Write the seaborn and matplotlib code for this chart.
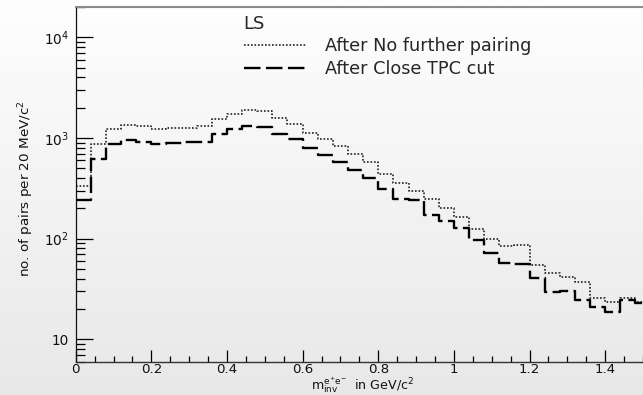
import numpy as np
import pandas as pd
import matplotlib
matplotlib.use("Agg")
import matplotlib.pyplot as plt
from matplotlib.colors import LinearSegmentedColormap
from matplotlib.ticker import FixedLocator, FixedFormatter, MultipleLocator, LogLocator, NullFormatter
import seaborn as sns

# ---- data ----
bin_edges = [round(0.04 * i, 2) for i in range(39)]
no_further = [331, 880, 1230, 1345, 1300, 1230, 1257, 1265, 1300, 1545,
              1748, 1887, 1842, 1580, 1390, 1131, 970, 833, 700, 577,
              435, 361, 297, 246, 203, 164, 124, 99, 84, 87,
              55, 46, 41.5, 37, 25.5, 23.5, 25.7, 23.5]
close_tpc = [240, 614, 870, 948, 913, 866, 892, 913, 913, 1088,
             1240, 1316, 1298, 1088, 970, 790, 670, 577, 485, 404,
             309, 246, 240, 171, 149, 127.5, 96, 72.5, 57.5, 56,
             40.6, 29.5, 30.3, 24.4, 21, 18.5, 24.4, 23]
series_labels = ["After No further pairing", "After Close TPC cut"]
legend_title = "LS"
x_ticks = [0, 0.2, 0.4, 0.6, 0.8, 1.0, 1.2, 1.4]
x_tick_labels = ["0", "0.2", "0.4", "0.6", "0.8", "1", "1.2", "1.4"]
y_ticks = [10, 100, 1000, 10000]
y_tick_labels = ["10", "$10^{2}$", "$10^{3}$", "$10^{4}$"]
x_label = "m$^{e^{+}e^{-}}_{inv}$  in GeV/c$^{2}$"
y_label = "no. of pairs per 20 MeV/c$^{2}$"

# ---- style ----
sns.set_style("ticks")
plt.rcParams['font.family'] = ['DejaVu Sans']
plt.rcParams['mathtext.fontset'] = 'custom'
plt.rcParams['mathtext.rm'] = 'DejaVu Sans'
plt.rcParams['mathtext.it'] = 'DejaVu Sans'
plt.rcParams['mathtext.bf'] = 'DejaVu Sans:bold'

fig = plt.figure(figsize=(6.43, 3.95), dpi=100)

# background gradient
bg = fig.add_axes([0, 0, 1, 1], zorder=-10)
grad = np.linspace(0, 1, 256)[:, None]
bg.imshow(grad, cmap=LinearSegmentedColormap.from_list('g', ['#fefefe', '#e8e8e8']),
          aspect='auto', extent=[0, 1, 0, 1], origin='upper')
bg.axis('off')

ax = fig.add_axes([0.1177, 0.0843, 0.8823, 0.8992])
ax.set_facecolor('none')

edges = np.array(bin_edges)
centers = (edges[:-1] + edges[1:]) / 2
df1 = pd.DataFrame({"m": centers, "n": no_further})
df2 = pd.DataFrame({"m": centers, "n": close_tpc})

sns.histplot(data=df1, x="m", weights="n", bins=bin_edges, element='step', fill=False,
             color='#222222', linewidth=1.2, linestyle=(0, (1.0, 1.1)), ax=ax)
line1 = ax.lines[-1]
sns.histplot(data=df2, x="m", weights="n", bins=bin_edges, element='step', fill=False,
             color='black', linewidth=1.7, linestyle=(0, (7.0, 2.3)), ax=ax)
line2 = ax.lines[-1]

ax.set_yscale('log')
ax.set_xlim(0, 1.5)
ax.set_ylim(6.0, 2.02e4)

ax.xaxis.set_major_locator(FixedLocator(x_ticks))
ax.xaxis.set_major_formatter(FixedFormatter(x_tick_labels))
ax.xaxis.set_minor_locator(MultipleLocator(0.05))
ax.yaxis.set_major_locator(FixedLocator(y_ticks))
ax.yaxis.set_major_formatter(FixedFormatter(y_tick_labels))
ax.yaxis.set_minor_locator(LogLocator(base=10, subs=np.arange(2, 10)))
ax.yaxis.set_minor_formatter(NullFormatter())

ax.tick_params(axis='x', which='major', direction='in', length=8.4, width=0.9, color='black',
               pad=0.8, labelsize=9.6, labelcolor='#111111')
ax.tick_params(axis='x', which='minor', direction='in', length=4.3, width=0.9, color='black')
ax.tick_params(axis='y', which='major', direction='in', length=12, width=0.9, color='black',
               pad=5, labelsize=9.8, labelcolor='#111111')
ax.tick_params(axis='y', which='minor', direction='in', length=6.5, width=0.9, color='black')

ax.spines['right'].set_visible(False)
ax.spines['top'].set_color('#8c8c8c')
ax.spines['top'].set_linewidth(1.5)
ax.spines['left'].set_color('#111111')
ax.spines['left'].set_linewidth(0.9)
ax.spines['bottom'].set_color('#333333')
ax.spines['bottom'].set_linewidth(1.0)

ax.set_xlabel(x_label, fontsize=9.1, color='#111111')
ax.xaxis.label.set_va('bottom')
ax.set_ylabel(y_label, fontsize=9.7, color='#111111')
ax.xaxis.set_label_coords(0.506, -0.0935)
ax.yaxis.set_label_coords(-0.070, 0.488)

leg = ax.legend(handles=[line1, line2], labels=series_labels, title=legend_title,
                frameon=False, loc='upper left', bbox_to_anchor=(0.379, 0.963),
                bbox_transform=fig.transFigure, fontsize=12.7, title_fontsize=13,
                handlelength=3.57, handletextpad=1.02, alignment='left',
                borderaxespad=0, borderpad=0, labelspacing=0.26)

fig.savefig("out.png", dpi=100)
